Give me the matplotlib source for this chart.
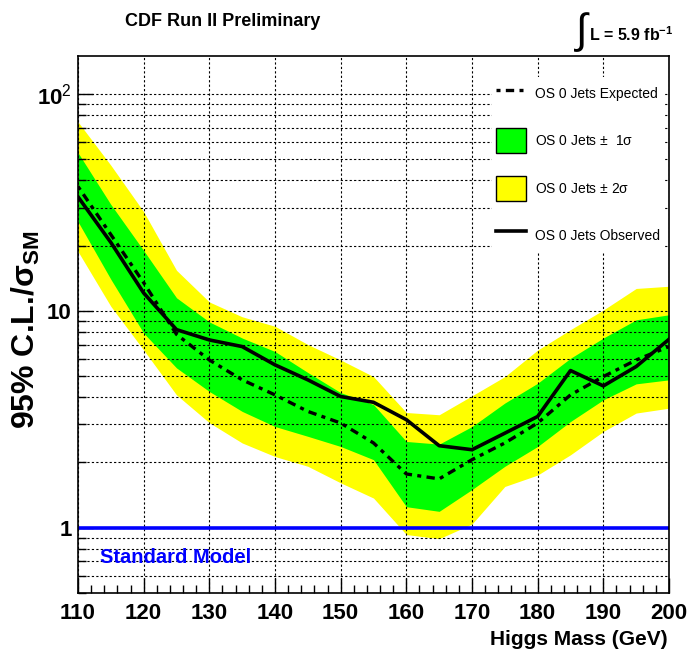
import numpy as np
import matplotlib.pyplot as plt
from matplotlib.lines import Line2D
from matplotlib.patches import Patch
from matplotlib.ticker import FixedLocator, NullFormatter

plt.rcParams['font.family'] = ['Liberation Sans', 'DejaVu Sans']
plt.rcParams['mathtext.fontset'] = 'custom'
plt.rcParams['mathtext.rm'] = 'Liberation Sans'
plt.rcParams['mathtext.bf'] = 'Liberation Sans:bold'
plt.rcParams['mathtext.it'] = 'Liberation Sans:italic'

# Higgs mass points (GeV) and limits on sigma/sigma_SM
mass = [110, 115, 120, 125, 130, 135, 140, 145, 150, 155,
        160, 165, 170, 175, 180, 185, 190, 195, 200]
observed = [33.6, 20.7, 12.1, 8.2, 7.35, 6.85, 5.64, 4.81, 4.03, 3.79,
            3.15, 2.39, 2.29, 2.73, 3.26, 5.31, 4.51, 5.54, 7.4]
expected = [37.5, 22.5, 13.5, 7.8, 5.94, 4.81, 4.1, 3.44, 3.04, 2.46,
            1.77, 1.68, 2.06, 2.46, 3.04, 4.10, 4.98, 5.94, 6.85]
sig1_lo = [25.8, 14.0, 7.9, 5.46, 4.25, 3.44, 2.93, 2.64, 2.37, 2.06,
           1.25, 1.19, 1.50, 1.92, 2.37, 3.09, 3.89, 4.61, 4.81]
sig1_hi = [53.7, 31.0, 19.0, 11.5, 8.9, 7.5, 6.5, 5.2, 4.2, 3.7,
           2.5, 2.43, 2.93, 3.76, 4.64, 6.05, 7.5, 9.1, 9.6]
sig2_lo = [18.8, 10.5, 6.6, 4.1, 3.05, 2.46, 2.13, 1.92, 1.61, 1.37,
           0.93, 0.89, 1.04, 1.55, 1.75, 2.17, 2.78, 3.38, 3.56]
sig2_hi = [74.5, 47.0, 28.7, 15.4, 11.0, 9.4, 8.5, 7.0, 5.94, 4.98,
           3.4, 3.32, 4.06, 4.98, 6.6, 8.2, 10.1, 12.7, 13.0]

fig = plt.figure(figsize=(6.88, 6.59), dpi=100)
ax = fig.add_axes([0.1134, 0.1002, 0.8590, 0.8148])

exp_style = (0, (1.2, 1.6, 2.5, 1.6))

ax.fill_between(mass, sig2_lo, sig2_hi, color='#ffff00', lw=0, zorder=1)
ax.fill_between(mass, sig1_lo, sig1_hi, color='#00ff00', lw=0, zorder=2)
ax.plot(mass, expected, color='black', lw=2.4, ls=exp_style, zorder=4)
ax.plot(mass, observed, color='black', lw=2.6, zorder=5)
ax.axhline(1.0, color='#0000ff', lw=2.6, zorder=6)
ax.text(113.3, 0.73, 'Standard Model', color='#0000ff', fontsize=14.5,
        fontweight='bold', va='center', ha='left', zorder=7)

ax.set_yscale('log')
ax.set_xlim(110, 200)
ax.set_ylim(0.5, 150)

ax.xaxis.set_major_locator(FixedLocator(np.arange(110, 201, 10)))
ax.xaxis.set_minor_locator(FixedLocator(np.arange(110, 201, 2)))
ax.yaxis.set_major_locator(FixedLocator([1, 10, 100]))
ax.set_yticklabels(['1', '10', r'10$^{2}$'])
minor_y = [v * d for d in (0.1, 1, 10) for v in range(2, 10) if 0.5 <= v * d <= 150]
ax.yaxis.set_minor_locator(FixedLocator(minor_y))
ax.yaxis.set_minor_formatter(NullFormatter())

ax.tick_params(axis='both', which='major', direction='in', length=11, width=1,
               labelsize=16)
ax.tick_params(axis='both', which='minor', direction='in', length=6, width=1)
ax.tick_params(axis='x', which='both', pad=7)
ax.tick_params(axis='y', which='both', pad=4.5, right=False)
for lab in ax.get_xticklabels() + ax.get_yticklabels():
    lab.set_fontweight('bold')

grid_style = dict(color='black', lw=0.8, ls=(0, (2, 2)))
ax.grid(True, axis='x', which='major', **grid_style)
ax.grid(True, axis='y', which='both', **grid_style)
ax.set_axisbelow(False)
for sp in ax.spines.values():
    sp.set_linewidth(1.2)
    sp.set_zorder(10)

fig.text(0.971, 0.029, 'Higgs Mass (GeV)', fontsize=15, fontweight='bold',
         ha='right', va='center')
fig.text(0.037, 0.50, r'95% C.L./$\mathbf{\sigma}_{\mathbf{SM}}$', fontsize=23,
         fontweight='bold', rotation=90, ha='center', va='center')

handles = [
    Line2D([], [], color='black', lw=2.4, ls=exp_style),
    Patch(facecolor='#00ff00', edgecolor='black', lw=1),
    Patch(facecolor='#ffff00', edgecolor='black', lw=1),
    Line2D([], [], color='black', lw=2.6),
]
labels = ['OS 0 Jets Expected', r'OS 0 Jets $\pm$  1$\mathrm{\sigma}$',
          r'OS 0 Jets $\pm$ 2$\mathrm{\sigma}$', 'OS 0 Jets Observed']
leg = ax.legend(handles, labels, loc='upper left', bbox_to_anchor=(0.70, 0.961),
                fontsize=10, frameon=True, fancybox=False, framealpha=1,
                facecolor='white', edgecolor='none', handlelength=2.2,
                handleheight=2.4, labelspacing=1.6, handletextpad=0.6,
                borderpad=0.3, borderaxespad=0)
leg.set_zorder(20)

fig.text(0.182, 0.968, 'CDF Run II Preliminary', fontsize=13, fontweight='bold',
         ha='left', va='center')
fig.text(0.834, 0.952, r'$\int$', fontsize=30, ha='left', va='center')
fig.text(0.856, 0.948, r'L = 5.9 fb$^{\mathbf{-1}}$', fontsize=11.5, fontweight='bold',
         ha='left', va='center')

fig.savefig('out.png', dpi=100)
